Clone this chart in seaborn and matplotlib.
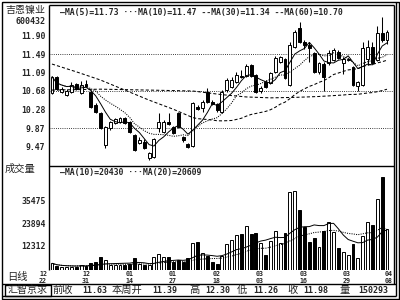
import matplotlib
matplotlib.use("Agg")
import matplotlib.pyplot as plt
import numpy as np
import pandas as pd
import seaborn as sns

# ---------------- data ----------------
opens = [10.64, 10.99, 10.66, 10.59, 10.66, 10.83, 10.64, 10.83, 10.66, 10.37,
         10.20, 9.50, 9.87, 9.98, 10.00, 10.09, 10.00, 9.72, 9.54, 9.56,
         9.21, 9.24, 9.87, 9.78, 10.00, 9.89, 10.20, 9.67, 9.52, 9.48,
         10.33, 10.31, 10.66, 10.44, 10.40, 10.22, 10.70, 10.77, 10.88, 11.01,
         11.01, 11.25, 11.03, 10.68, 10.88, 10.86, 11.10, 11.31, 11.38, 10.81,
         11.64, 12.06, 11.75, 11.69, 11.51, 11.10, 11.27, 11.29, 11.36, 11.53,
         11.29, 11.36, 11.21, 10.79, 10.81, 11.39, 11.64, 11.36, 11.95, 11.80]
highs = [11.01, 11.01, 10.77, 10.72, 10.88, 10.86, 10.90, 10.92, 10.70, 10.42,
         10.22, 9.92, 10.03, 10.09, 10.11, 10.11, 10.03, 9.74, 9.67, 9.63,
         9.35, 9.65, 10.20, 10.05, 10.20, 9.92, 10.22, 9.70, 9.54, 10.44,
         10.37, 10.48, 10.75, 10.48, 10.42, 10.70, 10.96, 10.99, 11.10, 11.14,
         11.27, 11.27, 11.05, 10.79, 10.92, 11.10, 11.45, 11.45, 11.40, 11.75,
         12.02, 12.20, 11.80, 11.75, 11.53, 11.31, 11.31, 11.58, 11.62, 11.58,
         11.42, 11.40, 11.23, 10.90, 11.75, 11.80, 11.75, 12.10, 12.30, 12.02]
lows = [10.62, 10.70, 10.64, 10.57, 10.64, 10.70, 10.62, 10.77, 10.31, 10.20,
        9.85, 9.43, 9.83, 9.96, 9.98, 9.96, 9.76, 9.37, 9.52, 9.41,
        9.17, 9.21, 9.78, 9.76, 9.94, 9.74, 9.87, 9.56, 9.43, 9.45,
        10.26, 10.22, 10.42, 10.37, 10.22, 10.20, 10.66, 10.75, 10.86, 10.96,
        10.99, 10.99, 10.64, 10.64, 10.75, 10.83, 11.07, 11.29, 10.94, 10.79,
        11.62, 11.72, 11.60, 11.31, 11.07, 11.05, 10.68, 11.25, 11.34, 11.38,
        11.05, 11.34, 10.79, 10.68, 10.79, 11.26, 11.29, 11.34, 11.75, 11.70]
closes = [10.99, 10.72, 10.72, 10.68, 10.81, 10.72, 10.81, 10.79, 10.33, 10.22,
          9.87, 9.89, 10.00, 10.07, 10.09, 9.98, 9.78, 9.39, 9.61, 9.43,
          9.32, 9.63, 10.00, 10.00, 9.96, 9.76, 9.89, 9.61, 9.45, 10.42,
          10.29, 10.44, 10.44, 10.40, 10.26, 10.66, 10.92, 10.92, 11.03, 10.99,
          11.23, 11.01, 10.66, 10.75, 10.77, 11.07, 11.40, 11.42, 10.96, 11.69,
          11.97, 11.75, 11.69, 11.62, 11.10, 11.29, 10.99, 11.51, 11.58, 11.40,
          11.38, 11.38, 10.81, 10.88, 11.63, 11.64, 11.30, 11.95, 11.80, 11.98]
volumes = [3400, 2000, 1700, 1700, 1700, 1700, 2550, 2000, 3700, 4250,
           6800, 5100, 2550, 2550, 2550, 2550, 3060, 5950, 3060, 2550,
           2550, 6480, 8160, 6800, 6480, 3900, 5100, 4250, 5950, 13600,
           14450, 8500, 7100, 4250, 3060, 7100, 13100, 15300, 17850, 18200,
           22400, 18360, 18700, 13900, 7650, 14950, 20000, 13600, 18700, 39600,
           40400, 30600, 21800, 14400, 16200, 11600, 19900, 24300, 19500, 11400,
           9000, 7650, 13100, 6300, 17300, 24300, 22950, 36100, 47300, 20900]

# long averages before a full window exists
ma30_early_idx = [0, 5, 10, 15, 20, 25]
ma30_early = [11.27, 11.10, 10.92, 10.70, 10.48, 10.28]
ma60_early_idx = [0, 10, 20, 29, 35, 40, 45, 50, 55]
ma60_early = [10.70, 10.72, 10.70, 10.68, 10.60, 10.55, 10.53, 10.54, 10.56]

price_ticks = [11.90, 11.49, 11.09, 10.68, 10.28, 9.87, 9.47]
price_tick_labels = ["11.90", "11.49", "11.09", "10.68", "10.28", "9.87", "9.47"]
price_grid = [11.49, 10.68, 9.87]
vol_ticks = [35475, 23894, 12312]
vol_tick_labels = ["35475", "23894", "12312"]
date_months = ["12", "12", "01", "01", "02", "03", "03", "03", "04"]
date_days = ["22", "31", "14", "27", "18", "03", "16", "29", "08"]
price_legend = "—MA(5)=11.73 ···MA(10)=11.47 --MA(30)=11.34 --MA(60)=10.70"
vol_legend = "—MA(10)=20430 ···MA(20)=20609"
stock_name = "吉恩镍业"
stock_code = "600432"
info_labels = ["前收", "本周开", "高", "低", "收", "量"]
info_values = ["11.63", "11.39", "12.30", "11.26", "11.98", "150293"]

# ---------------- build ----------------
sns.set_theme(style="white")
plt.rcParams['font.family'] = ['DejaVu Sans Mono', 'Noto Sans CJK SC']
MONO = ['DejaVu Sans Mono']
CJK = ['Noto Sans CJK SC', 'DejaVu Sans']

n = len(closes)
idx = np.arange(n)
df = pd.DataFrame({"i": idx, "open": opens, "high": highs, "low": lows,
                   "close": closes, "vol": volumes})
df["dir"] = np.where(df["close"] >= df["open"], "up", "down")
df["ma5"] = df["close"].rolling(5, min_periods=1).mean()
df["ma10"] = df["close"].rolling(10, min_periods=1).mean()
ma30_full = df["close"].rolling(30).mean()
ma60_full = df["close"].rolling(60).mean()
ma30_line = pd.DataFrame({"i": ma30_early_idx + list(idx[29:]),
                          "v": ma30_early + list(ma30_full[29:])})
ma60_line = pd.DataFrame({"i": ma60_early_idx + list(idx[59:]),
                          "v": ma60_early + list(ma60_full[59:])})
df["vma10"] = df["vol"].rolling(10, min_periods=1).mean()
df["vma20"] = df["vol"].rolling(20, min_periods=1).mean()

W, H = 400, 300
fig = plt.figure(figsize=(4, 3), dpi=100)
fig.patch.set_facecolor("white")

bg = fig.add_axes([0, 0, 1, 1], zorder=0)
bg.set_xlim(0, W)
bg.set_ylim(H, 0)
bg.axis("off")

X0, X1 = 48.5, 393.5
PY0, PY1 = 4.5, 165.5
VY1 = 270.0
STEP, FIRST = 4.855, 52.0


def fx(px):
    return px / W


def fy(py):
    return 1 - py / H


ax_p = fig.add_axes([fx(X0), fy(PY1), (X1 - X0) / W, (PY1 - PY0) / H], zorder=2)
ax_v = fig.add_axes([fx(X0), fy(VY1), (X1 - X0) / W, (VY1 - PY1) / H], zorder=2)
for a in (ax_p, ax_v):
    a.patch.set_alpha(0)
    for s in a.spines.values():
        s.set_visible(False)

xlim = ((X0 - FIRST) / STEP, (X1 - FIRST) / STEP)


def price_at(py):
    return 11.49 - (py - 54.0) * (1.62 / 74.0)


# ---- price panel ----
for g in price_grid:
    ax_p.axhline(g, color="black", lw=0.6, ls=(0, (1, 1.6)), zorder=1)
ax_p.vlines(df["i"], df["low"], df["high"], color="black", lw=0.75, zorder=2)
bottoms = np.minimum(df["open"], df["close"])
heights = np.maximum(np.abs(df["close"] - df["open"]), 0.012)
ax_p.bar(df["i"], heights, bottom=bottoms, width=0.6,
         color=["white" if d == "up" else "black" for d in df["dir"]],
         edgecolor="black", linewidth=0.7, zorder=3)
sns.lineplot(data=df, x="i", y="ma5", ax=ax_p, color="black", lw=0.7, zorder=4)
sns.lineplot(data=df, x="i", y="ma10", ax=ax_p, color="black", lw=0.75,
             linestyle=(0, (1, 1.2)), zorder=4)
sns.lineplot(data=ma30_line, x="i", y="v", ax=ax_p, color="black", lw=0.75,
             linestyle=(0, (3, 2)), zorder=4)
sns.lineplot(data=ma60_line, x="i", y="v", ax=ax_p, color="black", lw=0.75,
             linestyle=(0, (3, 2)), zorder=4)
ax_p.set_xlim(*xlim)
ax_p.set_ylim(price_at(PY1), price_at(PY0))
ax_p.set_xticks([])
ax_p.set_yticks(price_ticks)
ax_p.set_yticklabels(price_tick_labels, family=MONO, fontweight="bold",
                     fontsize=5.9)
ax_p.tick_params(axis="y", length=0, pad=2.2)
ax_p.set_xlabel("")
ax_p.set_ylabel("")
ax_p.text((60 - X0) / (X1 - X0), 1 - (13 - PY0) / (PY1 - PY0),
          price_legend, transform=ax_p.transAxes, ha="left", va="center",
          family=MONO, fontweight="bold", fontsize=5.85, zorder=5)

# ---- volume panel ----
sns.barplot(data=df, x="i", y="vol", hue="dir", ax=ax_v, native_scale=True,
            palette={"up": "white", "down": "black"}, saturation=1,
            width=0.6, dodge=False, edgecolor="black", linewidth=0.7,
            errorbar=None, legend=False, zorder=3)
sns.lineplot(data=df, x="i", y="vma10", ax=ax_v, color="black", lw=0.7, zorder=4)
sns.lineplot(data=df, x="i", y="vma20", ax=ax_v, color="black", lw=0.75,
             linestyle=(0, (1, 1.2)), zorder=4)
VSCALE = 12312 / (270.0 - 245.9)
ax_v.set_xlim(*xlim)
ax_v.set_ylim(0, (VY1 - PY1) * VSCALE)
ax_v.set_xticks([])
ax_v.set_yticks(vol_ticks)
ax_v.set_yticklabels(vol_tick_labels, family=MONO, fontweight="bold",
                     fontsize=5.9)
ax_v.tick_params(axis="y", length=0, pad=2.2)
ax_v.set_xlabel("")
ax_v.set_ylabel("")
ax_v.text((60 - X0) / (X1 - X0), 1 - (172 - PY1) / (VY1 - PY1), vol_legend,
          transform=ax_v.transAxes, ha="left", va="center", family=MONO,
          fontweight="bold", fontsize=5.85, zorder=5)

# date labels under the volume panel (every 9th bar)
date_px = [43, 86, 129.5, 173, 216.5, 260, 303.5, 347, 389]
for px, m, d in zip(date_px, date_months, date_days):
    bg.text(px, 273.8, m, ha="center", va="center", family=MONO,
            fontweight="bold", fontsize=4.8)
    bg.text(px, 280.6, d, ha="center", va="center", family=MONO,
            fontweight="bold", fontsize=4.8)

# ---- frame lines ----
lk = dict(color="black", lw=1.0, solid_capstyle="butt")
bg.plot([1.5, 398.5, 398.5, 1.5, 1.5], [1.5, 1.5, 298.5, 298.5, 1.5], **lk)
bg.plot([395.5, 395.5], [1.5, 296], **lk)
bg.plot([1.5, 395.5], [296.0, 296.0], **lk)
bg.plot([X0, X0], [PY0, VY1], **lk)
bg.plot([X0, X1], [PY0, PY0], **lk)
bg.plot([X1, X1], [PY0, 283.5], **lk)
bg.plot([X0, X1], [PY1, PY1], **lk)
bg.plot([1.5, 395.5], [283.5, 283.5], **lk)
bg.plot([4.5, 50.5, 50.5, 4.5, 4.5], [284.5, 284.5, 295.5, 295.5, 284.5], **lk)

# ---- side & bottom texts ----
bg.text(25, 9.5, stock_name, ha="center", va="center", family=CJK, fontsize=7.2)
bg.text(45.5, 21.5, stock_code, ha="right", va="center", family=MONO,
        fontweight="bold", fontsize=6.0)
bg.text(5, 168.5, "成交量", ha="left", va="center", family=CJK, fontsize=7.4)
bg.text(7, 277, "日线", ha="left", va="center", family=CJK, fontsize=7.4)
bg.text(27.5, 290, "汇智京求", ha="center", va="center", family=CJK, fontsize=7.2)
lab_x = [52, 112, 189, 237, 287, 339]
val_x = [107, 177, 230, 278, 328, 388]
for lx, lab in zip(lab_x, info_labels):
    bg.text(lx, 290, lab, ha="left", va="center", family=CJK, fontsize=7.4)
for vx, val in zip(val_x, info_values):
    bg.text(vx, 290.5, val, ha="right", va="center", family=MONO,
            fontweight="bold", fontsize=6.0)

fig.savefig("out.png", dpi=100, facecolor="white")
